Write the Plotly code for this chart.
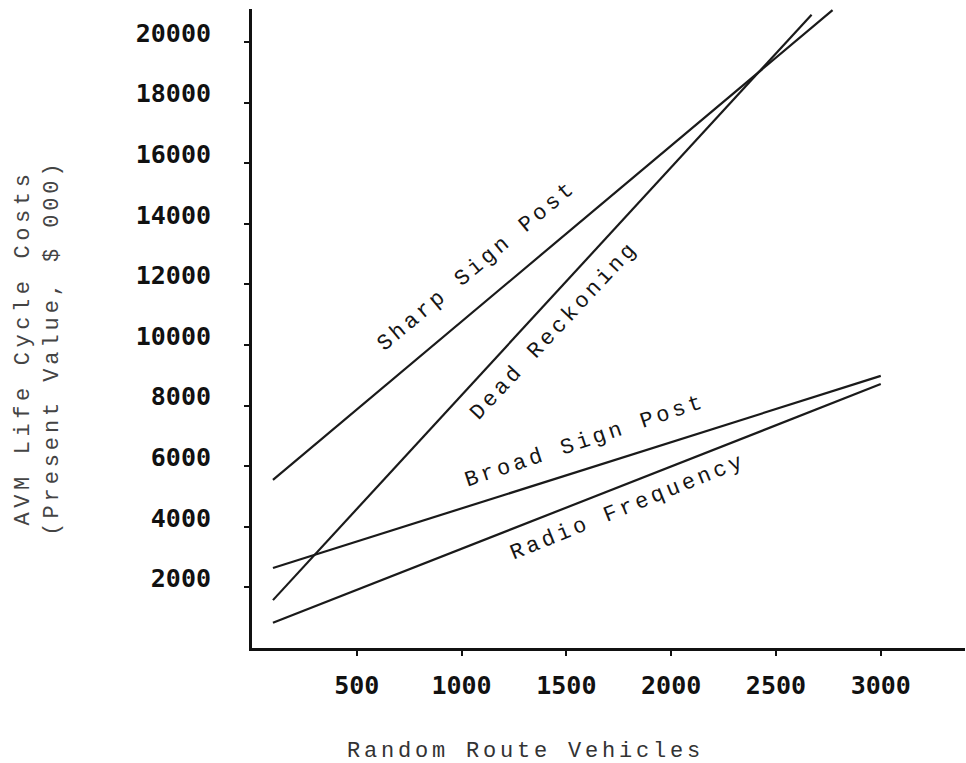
import plotly.graph_objects as go

# Random-route fleet size (vehicles) and life-cycle cost ($ 000) for each AVM technology
sharp_x = [100, 2770]
sharp_y = [5550, 21050]
dead_x = [100, 2670]
dead_y = [1580, 20900]
broad_x = [100, 3000]
broad_y = [2640, 8980]
radio_x = [100, 3000]
radio_y = [830, 8710]

x_ticks = [500, 1000, 1500, 2000, 2500, 3000]
y_ticks = [2000, 4000, 6000, 8000, 10000, 12000, 14000, 16000, 18000, 20000]

series = [
    ("Sharp Sign Post", sharp_x, sharp_y),
    ("Dead Reckoning", dead_x, dead_y),
    ("Broad Sign Post", broad_x, broad_y),
    ("Radio Frequency", radio_x, radio_y),
]

TYPE = "Liberation Mono, Courier New, monospace"
DIGITS = "DejaVu Sans Mono, monospace"


def spaced(text, gap):
    return f'<span style="letter-spacing:{gap}px">{text}</span>'


fig = go.Figure()
for name, xs, ys in series:
    fig.add_trace(go.Scatter(
        x=xs, y=ys, mode="lines", name=name,
        line=dict(color="#1a1a1a", width=2.2),
        showlegend=False, hoverinfo="skip",
    ))

# Labels written along each line
line_labels = [
    ("Sharp Sign Post", 1073, 12600, -40),
    ("Dead Reckoning", 1441, 10460, -47),
    ("Broad Sign Post", 1589, 6830, -18.5),
    ("Radio Frequency", 1794, 4650, -22),
]
for text, lx, ly, ang in line_labels:
    fig.add_annotation(
        x=lx, y=ly, xref="x", yref="y", text=spaced(text, 3.6),
        textangle=ang, showarrow=False,
        font=dict(family=TYPE, size=22, color="#151515"),
        xanchor="center", yanchor="middle",
    )

# Axis titles
fig.add_annotation(
    x=0, y=-0.162, xref="paper", yref="paper", xshift=273,
    text=spaced("Random Route Vehicles", 3.8), showarrow=False,
    font=dict(family=TYPE, size=22, color="#333333"),
    xanchor="center", yanchor="middle",
)
fig.add_annotation(
    x=0, y=0.47, xref="paper", yref="paper", xshift=-214,
    text=spaced("AVM Life Cycle Costs", 4.6) + "<br>" + spaced("(Present Value, $ 000)", 3.9),
    textangle=-90, showarrow=False,
    font=dict(family=TYPE, size=22, color="#444444"),
    xanchor="center", yanchor="middle",
)

fig.update_layout(
    width=966, height=763,
    margin=dict(l=252, r=1, t=9, b=115),
    paper_bgcolor="white", plot_bgcolor="white",
    showlegend=False,
)
fig.update_xaxes(
    range=[0, 3402], tickvals=x_ticks, ticktext=[str(v) for v in x_ticks],
    showgrid=False, zeroline=False,
    showline=True, linecolor="#111111", linewidth=3,
    ticks="outside", ticklen=5, tickwidth=2, tickcolor="#111111",
    tickfont=dict(family=DIGITS, size=25, color="#111111", weight="bold"),
    ticklabelstandoff=8,
)
fig.update_yaxes(
    range=[0, 21090], tickvals=y_ticks, ticktext=[str(v) for v in y_ticks],
    showgrid=False, zeroline=False,
    showline=True, linecolor="#111111", linewidth=3,
    ticks="outside", ticklen=5, tickwidth=2, tickcolor="#111111",
    tickfont=dict(family=DIGITS, size=25, color="#111111", weight="bold"),
    ticklabelstandoff=28, ticklabelshift=-9,
)

fig.write_html("out.html")
